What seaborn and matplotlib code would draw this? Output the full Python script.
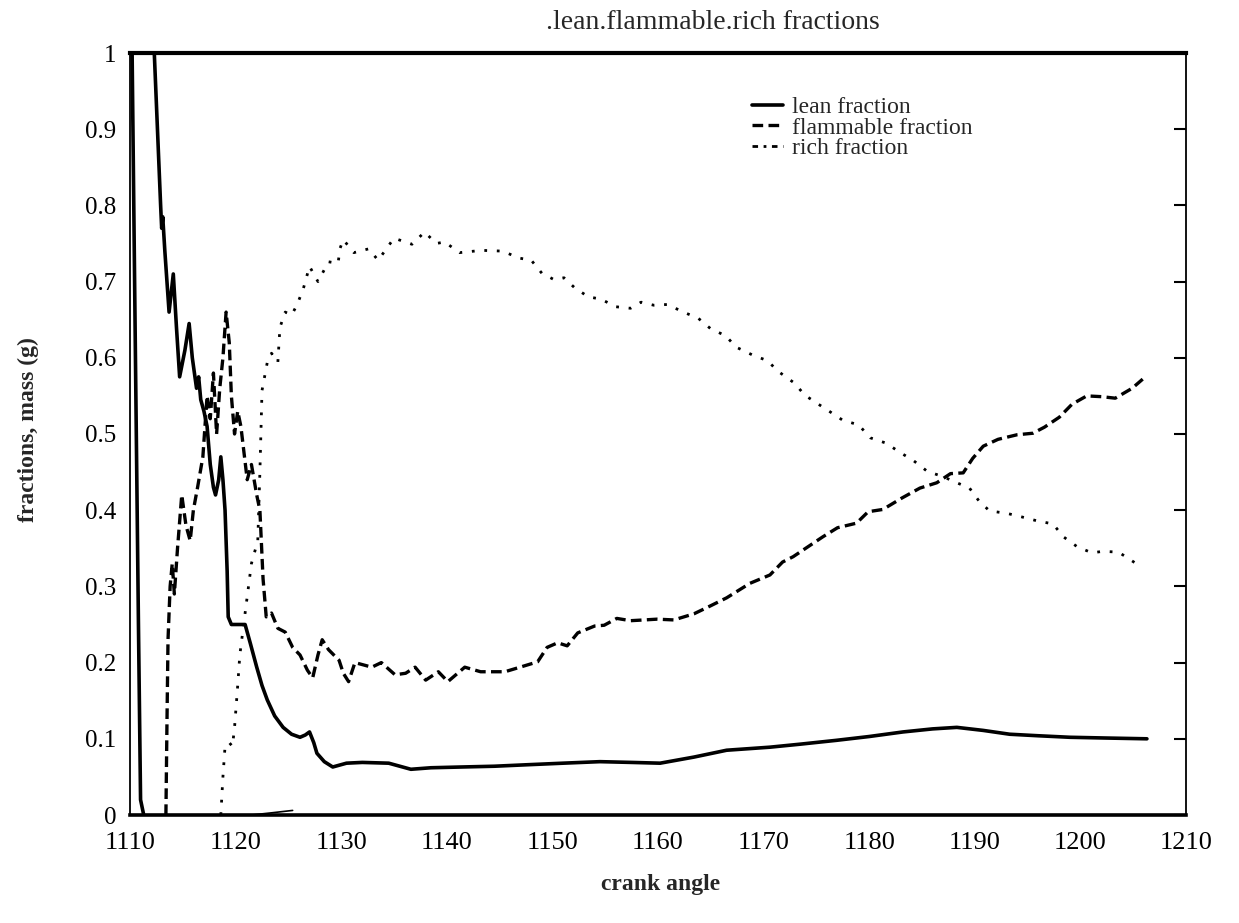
import pandas as pd
import seaborn as sns
import matplotlib.pyplot as plt
from matplotlib.lines import Line2D

# lean fraction: short drop at the very start, then the main curve, plus the small trace near zero
lean_start_x = [1110.2, 1110.5, 1110.8, 1111.0, 1111.3]
lean_start_y = [1.0, 0.62, 0.25, 0.02, 0.0]

lean_x = [1112.3, 1112.6, 1112.9, 1113.0, 1113.1, 1113.3, 1113.7, 1114.1, 1114.4, 1114.7,
          1115.2, 1115.6, 1115.9, 1116.3, 1116.5, 1116.7, 1117.0, 1117.3, 1117.6, 1117.9,
          1118.1, 1118.4, 1118.6, 1118.8, 1119.0, 1119.2, 1119.3, 1119.6, 1120.2, 1120.9,
          1121.4, 1122.0, 1122.5, 1123.0, 1123.7, 1124.5, 1125.3, 1126.1, 1126.6, 1127.0,
          1127.4, 1127.7, 1128.4, 1129.2, 1130.5, 1132.0, 1134.5, 1136.6, 1138.5, 1141.4,
          1144.5, 1147.7, 1151.0, 1154.5, 1157.5, 1160.2, 1163.4, 1166.5, 1170.6, 1173.5,
          1176.9, 1180.0, 1183.2, 1186.0, 1188.3, 1190.8, 1193.3, 1196.0, 1199.0, 1202.5,
          1206.3]
lean_y = [1.0, 0.9, 0.80, 0.77, 0.785, 0.74, 0.66, 0.71, 0.64, 0.575,
          0.61, 0.645, 0.60, 0.56, 0.575, 0.545, 0.53, 0.51, 0.46, 0.43,
          0.42, 0.44, 0.47, 0.44, 0.40, 0.32, 0.26, 0.25, 0.25, 0.25,
          0.225, 0.194, 0.17, 0.151, 0.13, 0.115, 0.106, 0.102, 0.105, 0.109,
          0.095, 0.081, 0.07, 0.063, 0.068, 0.069, 0.068, 0.06, 0.062, 0.063,
          0.064, 0.066, 0.068, 0.07, 0.069, 0.068, 0.076, 0.085, 0.089, 0.093,
          0.098, 0.103, 0.109, 0.113, 0.115, 0.111, 0.106, 0.104, 0.102, 0.101,
          0.1]

trace_x = [1121.5, 1123.5, 1125.4]
trace_y = [0.0, 0.003, 0.006]

flam_x = [1113.4, 1113.5, 1113.6, 1113.8, 1114.0, 1114.2, 1114.5, 1114.9, 1115.3, 1115.7,
          1116.0, 1116.4, 1116.9, 1117.3, 1117.6, 1117.9, 1118.2, 1118.5, 1118.8, 1119.1,
          1119.4, 1119.6, 1119.9, 1120.2, 1120.5, 1121.1, 1121.5, 1122.0, 1122.3, 1122.6,
          1122.9, 1123.4, 1124.0, 1124.7, 1125.4, 1126.1, 1126.8, 1127.3, 1127.8, 1128.2,
          1128.8, 1129.8, 1130.2, 1130.7, 1131.3, 1132.9, 1133.8, 1135.1, 1136.1, 1137.0,
          1138.0, 1139.2, 1140.1, 1141.7, 1143.2, 1145.5, 1146.7, 1148.6, 1149.5, 1150.5,
          1151.4, 1152.4, 1154.0, 1154.9, 1156.1, 1157.4, 1158.7, 1159.9, 1161.5, 1163.4,
          1164.9, 1166.5, 1168.7, 1170.6, 1171.8, 1172.8, 1174.2, 1175.6, 1177.0, 1178.8,
          1179.9, 1181.3, 1183.1, 1184.8, 1186.4, 1187.7, 1188.9, 1189.8, 1190.8, 1192.2,
          1194.0, 1195.5, 1196.6, 1198.0, 1199.2, 1200.6, 1202.0, 1203.3, 1204.9, 1205.9]
flam_y = [0.0, 0.12, 0.23, 0.30, 0.33, 0.29, 0.35, 0.42, 0.38, 0.36,
          0.40, 0.43, 0.47, 0.55, 0.52, 0.58, 0.50, 0.56, 0.60, 0.66,
          0.62, 0.55, 0.50, 0.53, 0.51, 0.44, 0.46, 0.42, 0.40, 0.31,
          0.26, 0.265, 0.245, 0.24, 0.22, 0.21, 0.19, 0.18, 0.21, 0.23,
          0.217, 0.203, 0.186, 0.175, 0.2, 0.194, 0.2, 0.184, 0.186, 0.194,
          0.177, 0.188, 0.175, 0.194, 0.188, 0.188, 0.193, 0.201, 0.22, 0.226,
          0.222, 0.239, 0.248, 0.249, 0.258, 0.255, 0.256, 0.257, 0.256, 0.264,
          0.274, 0.285, 0.304, 0.315, 0.332, 0.339, 0.352, 0.365, 0.377, 0.383,
          0.398, 0.401, 0.416, 0.429, 0.436, 0.448, 0.449, 0.468, 0.484, 0.493,
          0.499, 0.501, 0.509, 0.522, 0.539, 0.55, 0.549, 0.547, 0.56, 0.572]

rich_x = [1118.6, 1118.8, 1119.0, 1119.4, 1119.7, 1119.9, 1120.2, 1120.4, 1120.9, 1121.5,
          1122.1, 1122.3, 1122.5, 1123.0, 1123.4, 1124.0, 1124.2, 1124.7, 1125.3, 1125.8,
          1126.4, 1127.0, 1127.8, 1128.8, 1129.7, 1129.9, 1130.2, 1131.2, 1132.6, 1133.5,
          1135.0, 1136.7, 1137.9, 1139.0, 1139.8, 1141.2, 1143.3, 1145.3, 1146.8, 1148.0,
          1149.0, 1150.1, 1151.1, 1152.1, 1153.4, 1154.6, 1156.0, 1157.4, 1158.4, 1159.6,
          1160.9, 1162.4, 1163.8, 1165.0, 1166.4, 1167.4, 1168.9, 1170.4, 1171.3, 1172.9,
          1173.9, 1175.2, 1176.2, 1177.5, 1179.0, 1180.1, 1181.6, 1182.9, 1184.2, 1185.5,
          1187.0, 1188.3, 1189.5, 1190.4, 1191.4, 1193.0, 1194.5, 1195.9, 1197.4, 1198.4,
          1199.7, 1201.1, 1202.1, 1203.6, 1204.4, 1205.6]
rich_y = [0.0, 0.05, 0.09, 0.095, 0.09, 0.115, 0.17, 0.21, 0.265, 0.33,
          0.36, 0.45, 0.557, 0.594, 0.606, 0.594, 0.64, 0.66, 0.656, 0.669,
          0.69, 0.72, 0.70, 0.726, 0.724, 0.744, 0.755, 0.738, 0.743, 0.728,
          0.757, 0.749, 0.765, 0.75, 0.752, 0.738, 0.741, 0.74, 0.731, 0.728,
          0.711, 0.703, 0.705, 0.692, 0.68, 0.677, 0.667, 0.665, 0.673, 0.669,
          0.67, 0.66, 0.652, 0.638, 0.629, 0.614, 0.604, 0.596, 0.583, 0.567,
          0.551, 0.539, 0.53, 0.518, 0.512, 0.495, 0.488, 0.476, 0.465, 0.451,
          0.444, 0.436, 0.429, 0.412, 0.399, 0.396, 0.391, 0.386, 0.382, 0.365,
          0.352, 0.344, 0.346, 0.345, 0.338, 0.327]

x_ticks = [1110, 1120, 1130, 1140, 1150, 1160, 1170, 1180, 1190, 1200, 1210]
y_ticks = [0, 0.1, 0.2, 0.3, 0.4, 0.5, 0.6, 0.7, 0.8, 0.9, 1.0]
y_tick_labels = ["0", "0.1", "0.2", "0.3", "0.4", "0.5", "0.6", "0.7", "0.8", "0.9", "1"]
legend_labels = ["lean fraction", "flammable fraction", "rich fraction"]

sns.set_style("white")
plt.rcParams['font.family'] = ['Liberation Serif', 'DejaVu Serif']

fig = plt.figure(figsize=(12.39, 9.23), dpi=100)
ax = fig.add_axes([130 / 1239, 1 - 815 / 923, 1056 / 1239, 762 / 923])

solid = dict(color="black", lw=2.6, linestyle="-")
dashed = dict(color="black", lw=2.4, linestyle=(0, (3.2, 1.6)))
dotted = dict(color="black", lw=2.0, linestyle=(0, (1, 3.5)))

sns.lineplot(x=lean_start_x, y=lean_start_y, ax=ax, sort=False, estimator=None, **solid)
sns.lineplot(x=lean_x, y=lean_y, ax=ax, sort=False, estimator=None, **solid)
sns.lineplot(x=trace_x, y=trace_y, ax=ax, sort=False, estimator=None, color="black", lw=1.2)
sns.lineplot(x=flam_x, y=flam_y, ax=ax, sort=False, estimator=None, **dashed)
sns.lineplot(x=rich_x, y=rich_y, ax=ax, sort=False, estimator=None, **dotted)

ax.set_xlim(1110, 1210)
ax.set_ylim(0, 1)
ax.set_xticks(x_ticks)
ax.set_xticklabels([str(t) for t in x_ticks], fontsize=19)
ax.set_yticks(y_ticks)
ax.set_yticklabels(y_tick_labels, fontsize=18)
ax.tick_params(axis="x", length=0, pad=12, colors="black")
ax.tick_params(axis="y", direction="in", length=9, width=1.5, pad=10, right=True,
               colors="black")
ax.set_xlabel("")
ax.set_ylabel("")

for side, w in [("top", 3.0), ("bottom", 2.6), ("left", 1.3), ("right", 1.3)]:
    ax.spines[side].set_visible(True)
    ax.spines[side].set_color("black")
    ax.spines[side].set_linewidth(w)

handles = [Line2D([], [], **solid), Line2D([], [], **dashed),
           Line2D([], [], color="black", lw=2.0, linestyle=(0, (2, 2, 1, 2)))]
ax.legend(handles, legend_labels, loc="upper left", bbox_to_anchor=(0.58, 0.955),
          frameon=False, fontsize=17, handlelength=1.3, handletextpad=0.4,
          labelspacing=-0.05, borderaxespad=0)

fig.text(0.575, 0.976, ".lean.flammable.rich fractions", ha="center", va="center",
         fontsize=20)
fig.text(28 / 1239, 1 - 430 / 923, "fractions, mass (g)", rotation=90, ha="center",
         va="center", fontsize=17, fontweight="bold")
fig.text(0.533, 0.042, "crank angle", ha="center", va="center", fontsize=17,
         fontweight="bold")

plt.savefig("out.png", dpi=100)
